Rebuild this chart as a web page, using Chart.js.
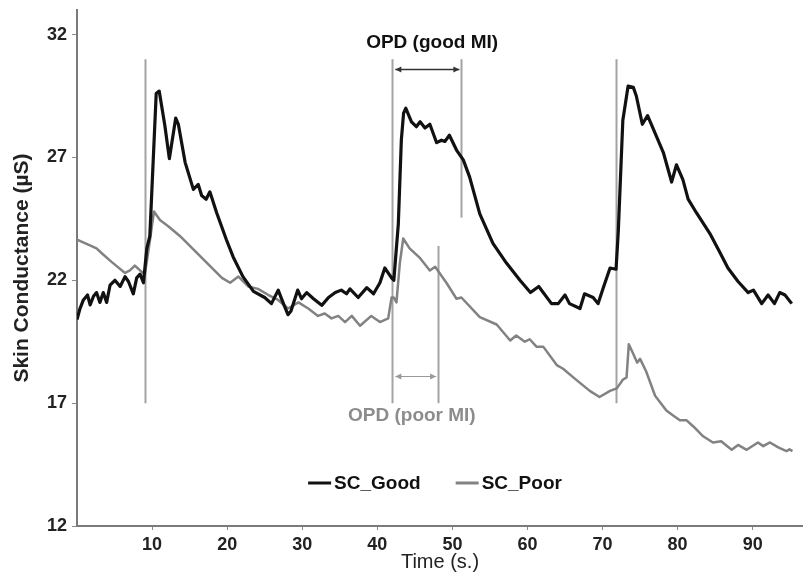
<!DOCTYPE html>
<html>
<head>
<meta charset="utf-8">
<script src="https://cdn.jsdelivr.net/npm/chart.js@4.4.1/dist/chart.umd.min.js"></script>
<style>
    html, body { margin: 0; padding: 0; background: #fff; }
    #scChart { display: block; }
</style>
</head>
<body>
<canvas id="scChart" width="803" height="580"></canvas>
<script>
// --- DATA ---
const goodTime = [
    0.0, 0.4, 0.85, 1.4, 1.75, 2.2, 2.6, 3.05, 3.5, 3.95,
    4.4, 5.05, 5.75, 6.4, 6.85, 7.5, 7.95, 8.4, 8.85, 9.3,
    9.7, 10.55, 10.95, 11.7, 12.3, 13.15, 13.5, 14.4, 15.5, 16.15,
    16.6, 17.2, 17.7, 18.6, 19.9, 20.8, 22.1, 23.5, 25.0, 25.9,
    26.8, 27.5, 28.1, 28.5, 29.4, 29.9, 30.6, 31.5, 32.6, 33.5,
    34.4, 35.2, 35.9, 36.35, 37.45, 38.6, 39.5, 40.35, 41.0, 41.9,
    42.2, 42.8, 43.2, 43.5, 43.8, 44.55, 45.2, 45.7, 46.35, 47.0,
    47.9, 48.55, 49.0, 49.6, 50.55, 51.45, 52.3, 53.65, 55.4, 57.2,
    59.0, 60.4, 61.5, 63.2, 64.1, 65.0, 65.6, 67.0, 67.6, 68.75,
    69.4, 70.1, 71.0, 71.8, 72.1, 72.7, 73.4, 74.1, 74.5, 75.3,
    76.0, 76.7, 78.1, 79.2, 79.85, 80.7, 81.4, 82.5, 84.3, 85.6,
    86.7, 88.05, 89.4, 90.1, 91.2, 92.05, 92.9, 93.6, 94.3, 95.2
];
const goodSC = [
    20.4, 20.85, 21.2, 21.4, 21.0, 21.35, 21.5, 21.1, 21.5, 21.1,
    21.8, 22.0, 21.75, 22.15, 21.95, 21.45, 22.1, 22.25, 21.9, 23.3,
    23.8, 29.6, 29.7, 28.3, 26.95, 28.6, 28.35, 26.8, 25.7, 25.9,
    25.45, 25.3, 25.6, 24.75, 23.65, 22.95, 22.15, 21.55, 21.3, 21.05,
    21.6, 21.05, 20.6, 20.75, 21.6, 21.25, 21.5, 21.25, 20.98, 21.3,
    21.5, 21.6, 21.45, 21.65, 21.3, 21.7, 21.45, 21.9, 22.5, 22.1,
    22.0, 24.3, 27.7, 28.8, 29.0, 28.45, 28.25, 28.45, 28.2, 28.35,
    27.6, 27.7, 27.65, 27.9, 27.3, 26.9, 26.2, 24.7, 23.5, 22.7,
    22.0, 21.5, 21.75, 21.05, 21.05, 21.4, 21.05, 20.85, 21.45, 21.3,
    21.05, 21.7, 22.5, 22.45, 24.0, 28.5, 29.9, 29.85, 29.5, 28.35,
    28.7, 28.2, 27.2, 26.0, 26.7, 26.1, 25.3, 24.75, 23.9, 23.15,
    22.5, 21.95, 21.5, 21.6, 21.05, 21.4, 21.05, 21.5, 21.4, 21.05
];
const poorTime = [
    0.0, 1.5, 2.6, 3.3, 4.6, 6.4, 7.05, 7.7, 8.4, 9.05,
    9.7, 10.25, 11.05, 12.15, 13.9, 15.7, 17.5, 19.3, 20.4, 21.5,
    22.8, 24.1, 25.5, 26.8, 28.1, 29.5, 30.8, 32.1, 33.0, 33.9,
    34.8, 35.7, 36.6, 37.7, 39.2, 40.35, 41.45, 41.9, 42.2, 42.55,
    43.0, 43.45, 44.3, 45.7, 47.0, 47.7, 49.2, 50.55, 51.2, 53.65,
    55.9, 57.7, 58.5, 59.65, 60.3, 61.2, 62.1, 63.9, 64.75, 66.1,
    68.3, 69.6, 71.0, 71.9, 72.7, 73.2, 73.5, 74.1, 74.6, 75.0,
    75.8, 77.0, 78.5, 79.4, 80.3, 81.2, 82.1, 83.4, 84.7, 85.8,
    87.2, 88.05, 89.2, 90.7, 91.4, 92.3, 93.4, 94.5, 94.9, 95.3
];
const poorSC = [
    23.65, 23.45, 23.3, 23.1, 22.75, 22.3, 22.4, 22.6, 22.4, 22.25,
    23.6, 24.8, 24.45, 24.2, 23.75, 23.2, 22.65, 22.1, 21.9, 22.15,
    21.75, 21.65, 21.4, 21.2, 20.85, 21.1, 20.85, 20.55, 20.65, 20.45,
    20.55, 20.3, 20.55, 20.15, 20.55, 20.3, 20.45, 21.3, 21.3, 21.1,
    22.7, 23.7, 23.3, 22.9, 22.4, 22.55, 21.9, 21.25, 21.3, 20.5,
    20.2, 19.55, 19.75, 19.5, 19.6, 19.3, 19.3, 18.55, 18.4, 18.05,
    17.5, 17.25, 17.5, 17.6, 17.95, 18.05, 19.4, 19.0, 18.65, 18.8,
    18.3, 17.3, 16.7, 16.5, 16.3, 16.3, 16.05, 15.65, 15.4, 15.45,
    15.1, 15.3, 15.1, 15.4, 15.25, 15.4, 15.2, 15.05, 15.12, 15.05
];
const seriesLabels = ['SC_Good', 'SC_Poor'];
const xTicks = [10, 20, 30, 40, 50, 60, 70, 80, 90];
const yTicks = [12, 17, 22, 27, 32];

// stimulus onsets and OPD brackets (time in s., conductance in µS)
const onsetTimes = [9.05, 41.9, 71.85];
const onsetRange = [17, 31];
const opdGoodSpan = [42.0, 51.2];
const opdGoodEndLine = [24.55, 31];
const opdGoodArrowAt = 30.6;
const opdPoorSpan = [42.0, 48.1];
const opdPoorEndLine = [17, 23.4];
const opdPoorArrowAt = 18.1;
const opdLabels = ['OPD (good MI)', 'OPD (poor MI)'];

const FONT = "'Liberation Sans', Arial, sans-serif";
const BLACK = '#111111';
const GREY = '#828282';
const MARK = '#a3a3a3';

// --- PLUGINS ---
const opdMarks = {
    id: 'opdMarks',
    beforeDatasetsDraw(chart) {
        const { ctx, scales: { x, y } } = chart;
        ctx.save();

        const vline = (t, v0, v1, color, w) => {
            ctx.strokeStyle = color; ctx.lineWidth = w;
            ctx.beginPath();
            ctx.moveTo(Math.round(x.getPixelForValue(t)) + 0.5, y.getPixelForValue(v0));
            ctx.lineTo(Math.round(x.getPixelForValue(t)) + 0.5, y.getPixelForValue(v1));
            ctx.stroke();
        };
        const arrow = (span, v, color, w) => {
            const x0 = x.getPixelForValue(span[0]) + 3, x1 = x.getPixelForValue(span[1]) - 2;
            const py = Math.round(y.getPixelForValue(v)) + 0.5;
            ctx.strokeStyle = color; ctx.fillStyle = color; ctx.lineWidth = w;
            ctx.beginPath(); ctx.moveTo(x0, py); ctx.lineTo(x1, py); ctx.stroke();
            ctx.beginPath(); ctx.moveTo(x0, py); ctx.lineTo(x0 + 6, py - 3); ctx.lineTo(x0 + 6, py + 3); ctx.fill();
            ctx.beginPath(); ctx.moveTo(x1, py); ctx.lineTo(x1 - 6, py - 3); ctx.lineTo(x1 - 6, py + 3); ctx.fill();
        };

        onsetTimes.forEach(t => vline(t, onsetRange[0], onsetRange[1], MARK, 2));
        vline(opdGoodSpan[1], opdGoodEndLine[0], opdGoodEndLine[1], MARK, 2);
        vline(opdPoorSpan[1], opdPoorEndLine[0], opdPoorEndLine[1], MARK, 2);
        arrow(opdGoodSpan, opdGoodArrowAt, '#333333', 1.5);
        arrow(opdPoorSpan, opdPoorArrowAt, '#999999', 1.2);

        // OPD labels
        ctx.textAlign = 'center'; ctx.textBaseline = 'middle';
        ctx.font = `bold 19px ${FONT}`;
        ctx.fillStyle = BLACK;
        ctx.fillText(opdLabels[0], x.getPixelForValue(47.3), y.getPixelForValue(31.67));
        ctx.fillStyle = '#8c8c8c';
        ctx.fillText(opdLabels[1], x.getPixelForValue(44.6), y.getPixelForValue(16.48));
        ctx.restore();
    }
};

const innerLegend = {
    id: 'innerLegend',
    afterDraw(chart) {
        const { ctx, chartArea, scales: { y } } = chart;
        const sets = chart.data.datasets;
        ctx.save();
        ctx.font = `bold 19px ${FONT}`;
        ctx.textBaseline = 'middle'; ctx.textAlign = 'left';
        const sample = 23, gap = 3, between = 35;
        const widths = sets.map(d => ctx.measureText(d.label).width);
        const total = widths.reduce((a, w) => a + sample + gap + w, 0) + between * (sets.length - 1);
        let cx = (chartArea.left + chartArea.right) / 2 - 5 - total / 2;
        const cy = Math.round(y.getPixelForValue(13.75));
        sets.forEach((d, i) => {
            ctx.strokeStyle = d.borderColor; ctx.lineWidth = 3;
            ctx.beginPath(); ctx.moveTo(cx, cy); ctx.lineTo(cx + sample, cy); ctx.stroke();
            ctx.fillStyle = BLACK;
            ctx.fillText(d.label, cx + sample + gap, cy + 1);
            cx += sample + gap + widths[i] + between;
        });
        ctx.restore();
    }
};

// --- CHART ---
const ctx = document.getElementById('scChart').getContext('2d');
new Chart(ctx, {
    type: 'line',
    data: {
        datasets: [
            { label: seriesLabels[0], data: goodTime.map((t, i) => ({ x: t, y: goodSC[i] })),
              borderColor: BLACK, borderWidth: 3.2, pointRadius: 0, tension: 0, borderJoinStyle: 'round' },
            { label: seriesLabels[1], data: poorTime.map((t, i) => ({ x: t, y: poorSC[i] })),
              borderColor: GREY, borderWidth: 2.5, pointRadius: 0, tension: 0, borderJoinStyle: 'round' }
        ]
    },
    options: {
        responsive: false,
        animation: false,
        layout: { padding: { top: 10, right: 0, left: 0, bottom: 0 } },
        plugins: { legend: { display: false }, tooltip: { enabled: false } },
        scales: {
            x: {
                type: 'linear', min: 0, max: 96.7,
                afterBuildTicks: s => { s.ticks = xTicks.map(v => ({ value: v })); },
                afterFit: s => { s.height = 54; s.paddingRight = 0; s.paddingLeft = 0; },
                grid: { drawOnChartArea: false, tickLength: 4, color: '#8a8a8a' },
                border: { color: '#7a7a7a', width: 2 },
                ticks: { color: '#222', padding: 4, font: { family: FONT, size: 18, weight: 'bold' } },
                title: { display: true, text: 'Time (s.)', color: '#222', padding: { top: 0, bottom: 6 },
                         font: { family: FONT, size: 20 } }
            },
            y: {
                min: 12, max: 33,
                afterBuildTicks: s => { s.ticks = yTicks.map(v => ({ value: v })); },
                afterFit: s => { s.width = 77; s.paddingTop = 0; s.paddingBottom = 0; },
                grid: { drawOnChartArea: false, tickLength: 5, color: '#8a8a8a' },
                border: { color: '#7a7a7a', width: 2 },
                ticks: { color: '#222', padding: 5, font: { family: FONT, size: 18, weight: 'bold' } },
                title: { display: true, text: 'Skin Conductance (µS)', color: '#222', padding: { top: 10, bottom: 0 },
                         font: { family: FONT, size: 21, weight: 'bold' } }
            }
        }
    },
    plugins: [opdMarks, innerLegend]
});
</script>
</body>
</html>
